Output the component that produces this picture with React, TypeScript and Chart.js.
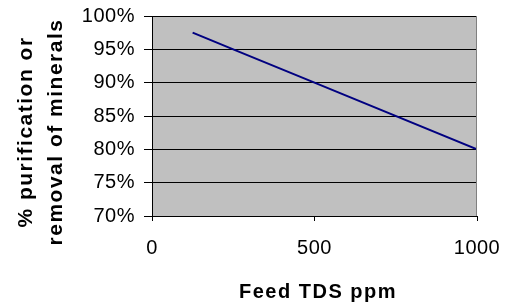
import React, { useEffect, useRef } from "react";
import { Chart, registerables } from "chart.js";

Chart.register(...registerables);

const feedTds: number[] = [125, 250, 500, 1000];
const removalPct: number[] = [97.5, 95, 90, 80];
const yTitleLines: string[] = ["% purification or", "removal of minerals"];
const xTitle = "Feed TDS ppm";

const FONT = '"Liberation Sans", Arial, sans-serif';

const framePlugin = {
  id: "frame",
  beforeDraw(chart: any) {
    const { ctx, chartArea } = chart;
    ctx.save();
    ctx.fillStyle = "#C0C0C0";
    ctx.fillRect(chartArea.left, chartArea.top, chartArea.right - chartArea.left, chartArea.bottom - chartArea.top);
    ctx.restore();
    (ctx as any).letterSpacing = "0.5px";
  },
  afterDraw(chart: any) {
    const { ctx, chartArea } = chart;
    ctx.save();
    ctx.strokeStyle = "#808080";
    ctx.lineWidth = 1;
    ctx.beginPath();
    const rx = Math.round(chartArea.right) - 0.5;
    ctx.moveTo(rx, chartArea.top);
    ctx.lineTo(rx, chartArea.bottom);
    ctx.stroke();

    ctx.fillStyle = "#000";
    (ctx as any).letterSpacing = "1.5px";
    ctx.font = `bold 20px ${FONT}`;
    ctx.textAlign = "center";
    ctx.textBaseline = "alphabetic";
    ctx.fillText(xTitle, 318, 298);

    (ctx as any).letterSpacing = "1.5px";
    ctx.font = `bold 21px ${FONT}`;
    ctx.translate(0, 132);
    ctx.rotate(-Math.PI / 2);
    ctx.fillText(yTitleLines[0], 0, 32);
    ctx.fillText(yTitleLines[1], 0, 62);
    ctx.restore();
  },
};

export default function App() {
  const ref = useRef<HTMLCanvasElement | null>(null);
  useEffect(() => {
    if (!ref.current) return;
    const chart = new Chart(ref.current, {
      type: "line",
      data: {
        datasets: [
          {
            data: feedTds.map((x, i) => ({ x, y: removalPct[i] })),
            borderColor: "#000080",
            borderWidth: 2,
            pointRadius: 0,
            tension: 0,
            fill: false,
          },
        ],
      },
      options: {
        animation: false,
        responsive: true,
        maintainAspectRatio: false,
        layout: { padding: { left: 0, right: 34, top: 16, bottom: 0 } },
        plugins: { legend: { display: false }, tooltip: { enabled: false } },
        scales: {
          x: {
            type: "linear",
            min: 0,
            max: 1000,
            afterFit: (s: any) => {
              s.height = 87;
              s.paddingLeft = 0;
              s.paddingRight = 0;
            },
            ticks: {
              stepSize: 500,
              color: "#000",
              padding: 15,
              maxRotation: 0,
              font: { family: FONT, size: 20 },
              callback: (v: any) => `${v}`,
            },
            grid: {
              drawOnChartArea: false,
              drawTicks: true,
              tickLength: 5,
              color: "#000",
            },
            border: { display: true, color: "#000", width: 1 },
          },
          y: {
            min: 70,
            max: 100,
            afterFit: (s: any) => {
              s.width = 152;
              s.paddingTop = 0;
              s.paddingBottom = 0;
            },
            ticks: {
              stepSize: 5,
              color: "#000",
              padding: 9,
              font: { family: FONT, size: 20 },
              callback: (v: any) => `${v}%`,
            },
            grid: {
              color: "#000",
              lineWidth: 1,
              drawTicks: true,
              tickLength: 8,
            },
            border: { display: true, color: "#000", width: 1 },
          },
        },
      },
      plugins: [framePlugin],
    });
    return () => chart.destroy();
  }, []);
  return (
    <div style={{ position: "fixed", left: 0, top: 0, width: 511, height: 303, background: "#fff" }}>
      <canvas ref={ref} />
    </div>
  );
}
